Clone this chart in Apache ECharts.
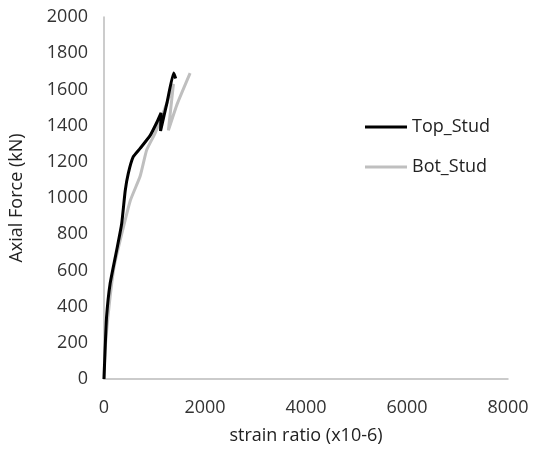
<!DOCTYPE html>
<html><head><meta charset="utf-8">
<script src="https://cdn.jsdelivr.net/npm/echarts@6/dist/echarts.min.js"></script>
<style>html,body{margin:0;padding:0;background:#fff}#main{width:539px;height:467px}</style>
</head><body><div id="main"></div>
<script>
// [strain, force]
var topStud = [[0,0],[20,150],[50,340],[120,525],[250,710],[350,858],[420,1040],[480,1135],[580,1228],[715,1274],[915,1346],[1050,1420],[1130,1470],[1120,1370],[1250,1530],[1380,1690],[1420,1660]];
var botStud = [[0,0],[20,155],[100,400],[200,620],[350,800],[520,985],[715,1120],[845,1265],[1010,1357],[1240,1520],[1375,1630],[1275,1374],[1450,1520],[1705,1690]];
var xTicks = [0, 8000, 2000];
var yTicks = [0, 2000, 200];

var font = 'Open Sans';
var plain = function (v) { return String(v); };
chart = echarts.init(document.getElementById('main'));
chart.setOption({
  animation: false,
  grid: {left: 104, right: 31, top: 17, bottom: 88},
  legend: {
    orient: 'vertical', left: 360, top: 113, itemGap: 22, itemWidth: 42, itemHeight: 3,
    textStyle: {fontFamily: font, fontSize: 18, color: '#222'},
    data: [{name: 'Top_Stud', icon: 'rect'}, {name: 'Bot_Stud', icon: 'rect'}]
  },
  xAxis: {
    type: 'value', min: xTicks[0], max: xTicks[1], interval: xTicks[2],
    name: 'strain ratio (x10-6)', nameLocation: 'middle', nameGap: 48,
    nameTextStyle: {fontFamily: font, fontSize: 18, color: '#222'},
    axisLine: {lineStyle: {color: '#bbb', width: 1.5}}, axisTick: {show: false},
    splitLine: {show: false},
    axisLabel: {fontFamily: font, fontSize: 18, color: '#333', margin: 20, formatter: plain}
  },
  yAxis: {
    type: 'value', min: yTicks[0], max: yTicks[1], interval: yTicks[2],
    name: 'Axial Force (kN)', nameLocation: 'middle', nameGap: 78,
    nameTextStyle: {fontFamily: font, fontSize: 18, color: '#222'},
    axisLine: {show: true, lineStyle: {color: '#bbb', width: 1.5}}, axisTick: {show: false},
    splitLine: {show: false},
    axisLabel: {fontFamily: font, fontSize: 18, color: '#333', margin: 16, formatter: plain}
  },
  series: [
    {name: 'Bot_Stud', type: 'line', data: botStud, showSymbol: false, smooth: 0.15,
     lineStyle: {color: '#bfbfbf', width: 3}, itemStyle: {color: '#bfbfbf'}, z: 1},
    {name: 'Top_Stud', type: 'line', data: topStud, showSymbol: false, smooth: 0.15,
     lineStyle: {color: '#000', width: 3}, itemStyle: {color: '#000'}, z: 2}
  ]
});
</script></body></html>
